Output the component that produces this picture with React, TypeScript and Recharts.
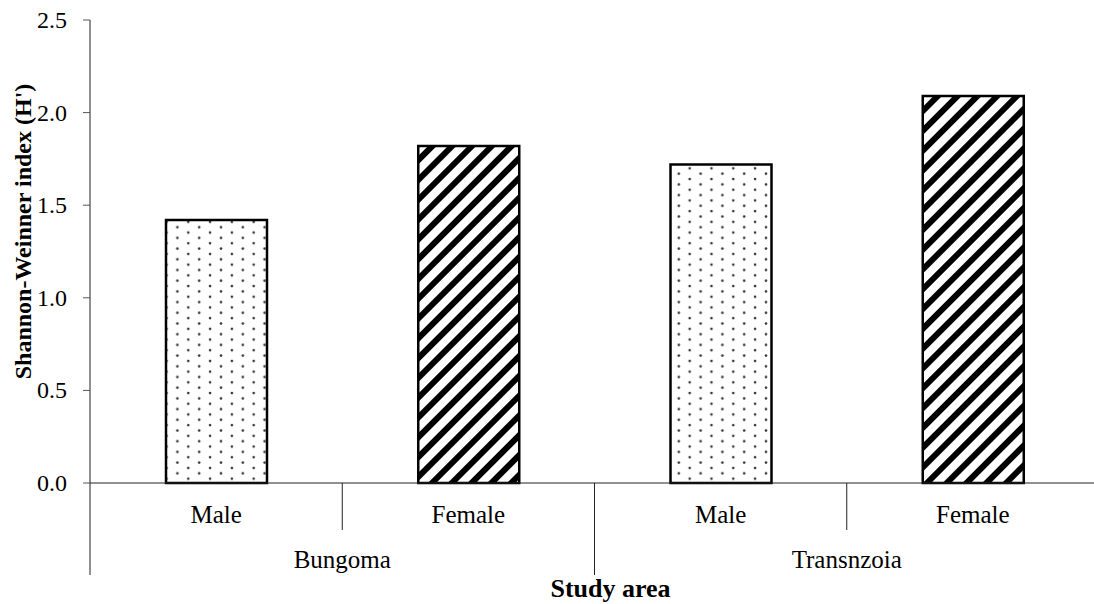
import { Bar, BarChart, Cell, XAxis, YAxis } from "recharts";

const sexes = ["Male", "Female", "Male", "Female"];
const areas = ["Bungoma", "Bungoma", "Transnzoia", "Transnzoia"];
const shannon = [1.42, 1.82, 1.72, 2.09];
const yTicks = [0, 0.5, 1, 1.5, 2, 2.5];

const data = sexes.map((sex, i) => ({ key: `${areas[i]}-${sex}`, sex, area: areas[i], h: shannon[i] }));

const FONT = "Liberation Serif";
const SEX_AXIS_H = 47;
const AREA_AXIS_H = 74;
const txt = { fontFamily: FONT, fontSize: 25, fill: "#000" };

function SexTick(props: any) {
  const { x, y, payload, index } = props;
  const half = payload?.offset ?? 126;
  return (
    <g>
      <text x={x} y={y + 40} textAnchor="middle" style={txt}>
        {sexes[index] ?? payload.value}
      </text>
      {index % 2 === 0 && (
        <line x1={x + half} x2={x + half} y1={y} y2={y + SEX_AXIS_H} stroke="#222" strokeWidth={1} />
      )}
    </g>
  );
}

function AreaTick(props: any) {
  const { x, y, payload, index } = props;
  const half = payload?.offset ?? 251;
  const top = y - SEX_AXIS_H;
  return (
    <g>
      <text x={x} y={y + 38} textAnchor="middle" style={txt}>
        {payload.value}
      </text>
      {index === 0 && (
        <>
          <line x1={x + half} x2={x + half} y1={top} y2={top + 92} stroke="#222" strokeWidth={1} />
          <line x1={x - half} x2={x - half} y1={top} y2={top + 92} stroke="#222" strokeWidth={1} />
        </>
      )}
    </g>
  );
}

function YTick(props: any) {
  const { x, y, payload } = props;
  return (
    <text x={x} y={y + 8} textAnchor="end" style={{ ...txt, fontSize: 24 }}>
      {Number(payload.value).toFixed(1)}
    </text>
  );
}

export default function App() {
  return (
    <div style={{ position: "absolute", left: 0, top: 0, background: "#fff", fontFamily: FONT }}>
      <BarChart width={1094} height={604} data={data} margin={{ top: 20, right: -5, bottom: 0, left: 0 }} barSize={101}>
        <defs>
          <pattern id="dots" width={21.8} height={10.7} patternUnits="userSpaceOnUse">
            <circle cx={3} cy={2.5} r={1.3} fill="#333" />
            <circle cx={13.9} cy={7.85} r={1.3} fill="#333" />
          </pattern>
          <pattern id="stripes" width={14} height={14} patternUnits="userSpaceOnUse" patternTransform="rotate(45)">
            <rect width={14} height={14} fill="#fff" />
            <rect x={0} y={0} width={6} height={14} fill="#000" />
          </pattern>
        </defs>
        <XAxis
          dataKey="key"
          height={SEX_AXIS_H}
          tickLine={false}
          tickSize={0}
          tickMargin={0}
          axisLine={{ stroke: "#222", strokeWidth: 1 }}
          tick={<SexTick />}
          interval={0}
        />
        <XAxis
          xAxisId="area"
          dataKey="area"
          allowDuplicatedCategory={false}
          height={AREA_AXIS_H}
          tickLine={false}
          tickSize={0}
          tickMargin={0}
          axisLine={false}
          tick={<AreaTick />}
          interval={0}
          label={{
            content: ({ viewBox }: any) => (
              <text
                x={viewBox.x + viewBox.width / 2 + 16}
                y={597}
                textAnchor="middle"
                style={{ ...txt, fontSize: 26, fontWeight: "bold" }}
              >
                Study area
              </text>
            ),
          }}
        />
        <YAxis
          width={90}
          domain={[0, 2.5]}
          ticks={yTicks}
          interval={0}
          tickSize={7}
          tickMargin={16}
          tickLine={{ stroke: "#555" }}
          axisLine={{ stroke: "#222", strokeWidth: 1 }}
          tick={<YTick />}
          label={{
            content: ({ viewBox }: any) => {
              const cy = viewBox.y + viewBox.height / 2 - 20;
              return (
                <text
                  x={23}
                  y={cy}
                  transform={`rotate(-90 23 ${cy})`}
                  textAnchor="middle"
                  dominantBaseline="central"
                  style={{ ...txt, fontSize: 24, fontWeight: "bold" }}
                >
                  Shannon-Weinner index (H')
                </text>
              );
            },
          }}
        />
        <Bar dataKey="h" stroke="#000" strokeWidth={2.5} isAnimationActive={false}>
          {data.map((d) => (
            <Cell key={d.key} fill={d.sex === "Male" ? "url(#dots)" : "url(#stripes)"} />
          ))}
        </Bar>
      </BarChart>
    </div>
  );
}
